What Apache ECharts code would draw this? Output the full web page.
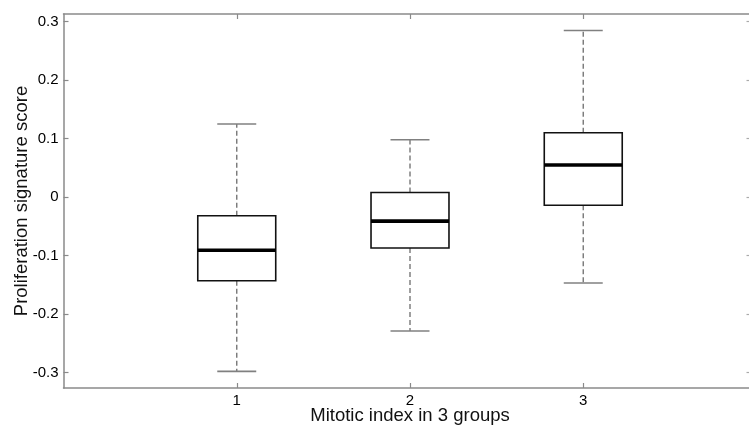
<!DOCTYPE html>
<html>
<head>
<meta charset="utf-8">
<script src="https://cdn.jsdelivr.net/npm/echarts@6/dist/echarts.min.js"></script>
<style>html,body{margin:0;padding:0;background:#fff}#c{width:749px;height:428px}</style>
</head>
<body>
<div id="c"></div>
<script>
const groups = [1, 2, 3];
const whiskerLow = [-0.298, -0.229, -0.147];
const q1 = [-0.143, -0.087, -0.014];
const medians = [-0.091, -0.041, 0.055];
const q3 = [-0.032, 0.008, 0.110];
const whiskerHigh = [0.125, 0.098, 0.285];
const yTicks = [-0.3, -0.2, -0.1, 0, 0.1, 0.2, 0.3];

const data = groups.map((g, i) => [g, whiskerLow[i], q1[i], medians[i], q3[i], whiskerHigh[i]]);
const font = '"Liberation Sans", Arial, sans-serif';
const frame = '#8a8a8a';

const chart = echarts.init(document.getElementById('c'), null, {renderer: 'canvas'});
chart.setOption({
  animation: false,
  grid: {left: 63.5, top: 14, right: -7.5, bottom: 40, outerBoundsMode: 'none', containLabel: false},
  xAxis: [{
    type: 'value', min: 0, max: 4, interval: 1, position: 'bottom',
    name: 'Mitotic index in 3 groups', nameLocation: 'middle', nameGap: 18, nameMoveOverlap: false,
    nameTextStyle: {fontFamily: font, fontSize: 18.5, color: '#111', verticalAlign: 'top'},
    axisLine: {show: true, onZero: false, lineStyle: {color: frame, width: 1.5}},
    axisTick: {show: true, inside: true, length: 5, lineStyle: {color: frame, width: 1.2},
      customValues: groups},
    axisLabel: {fontFamily: font, fontSize: 15, color: '#000', margin: 5,
      customValues: groups, formatter: v => String(v)},
    splitLine: {show: false}
  }, {
    type: 'value', min: 0, max: 4, interval: 1, position: 'top',
    axisLine: {show: true, onZero: false, lineStyle: {color: frame, width: 1.5}},
    axisTick: {show: true, inside: true, length: 5, lineStyle: {color: frame, width: 1.2},
      customValues: groups},
    axisLabel: {show: false},
    splitLine: {show: false}
  }],
  yAxis: [{
    type: 'value', min: -0.3265, max: 0.3132,
    name: 'Proliferation signature score', nameLocation: 'middle', nameGap: 32, nameRotate: 90,
    nameMoveOverlap: false,
    nameTextStyle: {fontFamily: font, fontSize: 18.5, color: '#111'},
    axisLine: {show: true, onZero: false, lineStyle: {color: frame, width: 1.5}},
    axisTick: {show: true, inside: true, length: 5, lineStyle: {color: frame, width: 1.2},
      customValues: yTicks},
    axisLabel: {fontFamily: font, fontSize: 15, color: '#000', margin: 5,
      customValues: yTicks, formatter: v => (Math.round(v * 10) / 10).toString()},
    splitLine: {show: false}
  }, {
    type: 'value', min: -0.3265, max: 0.3132, position: 'right', offset: -6,
    axisLine: {show: false, onZero: false},
    axisTick: {show: true, inside: true, length: 4, lineStyle: {color: '#aaa', width: 1.2},
      customValues: yTicks},
    axisLabel: {show: false},
    splitLine: {show: false}
  }],
  series: [{
    type: 'custom',
    xAxisIndex: 0, yAxisIndex: 0,
    data: data,
    encode: {x: 0, y: [1, 2, 3, 4, 5]},
    renderItem: function (params, api) {
      const x = api.value(0);
      const pLow = api.coord([x, api.value(1)]);
      const pQ1 = api.coord([x, api.value(2)]);
      const pMed = api.coord([x, api.value(3)]);
      const pQ3 = api.coord([x, api.value(4)]);
      const pHigh = api.coord([x, api.value(5)]);
      const bw = api.size([0.45, 0])[0];
      const half = bw / 2, capHalf = bw / 4;
      const cx = pMed[0];
      const dash = {stroke: '#777', lineWidth: 1.4, lineDash: [5, 3]};
      const cap = {stroke: '#808080', lineWidth: 1.6};
      return {
        type: 'group',
        children: [
          {type: 'line', shape: {x1: cx, y1: pQ3[1], x2: cx, y2: pHigh[1]}, style: dash},
          {type: 'line', shape: {x1: cx, y1: pQ1[1], x2: cx, y2: pLow[1]}, style: dash},
          {type: 'line', shape: {x1: cx - capHalf, y1: pHigh[1], x2: cx + capHalf, y2: pHigh[1]}, style: cap},
          {type: 'line', shape: {x1: cx - capHalf, y1: pLow[1], x2: cx + capHalf, y2: pLow[1]}, style: cap},
          {type: 'rect', shape: {x: cx - half, y: pQ3[1], width: bw, height: pQ1[1] - pQ3[1]},
            style: {fill: 'none', stroke: '#111', lineWidth: 1.6}},
          {type: 'line', shape: {x1: cx - half, y1: pMed[1], x2: cx + half, y2: pMed[1]},
            style: {stroke: '#000', lineWidth: 3.6}}
        ]
      };
    }
  }]
});
</script>
</body>
</html>
